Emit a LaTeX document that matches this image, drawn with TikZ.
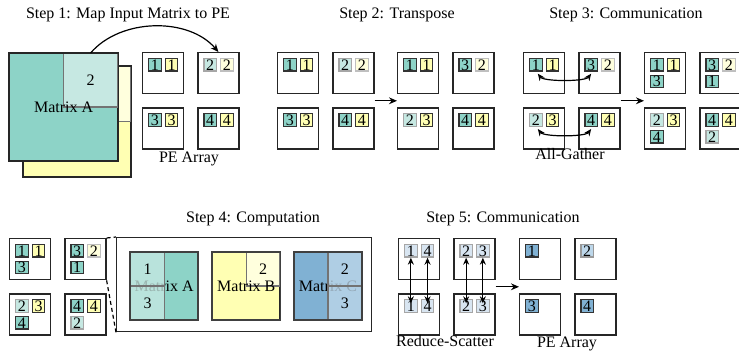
\documentclass[tikz,border=0pt]{standalone}
\usepackage{fontspec}
\setmainfont{Liberation Serif}
\usetikzlibrary{arrows.meta, positioning, calc}
\definecolor{tealA}{HTML}{8DD3C7}
\definecolor{tealAl}{HTML}{C6E8E2}
\definecolor{yellB}{HTML}{FFFFB3}
\definecolor{yellBl}{HTML}{FFFFDD}
\definecolor{blueC}{HTML}{80B1D3}
\definecolor{blueCl}{HTML}{BDD7EA}
\definecolor{blueR}{HTML}{D8E5F1}
\tikzset{
    pebox/.style={rectangle, draw=black!85, line width=0.65pt, fill=white,
                  minimum width=20.5pt, minimum height=20.5pt, inner sep=0pt},
    tilebase/.style={rectangle, line width=0.6pt, minimum width=6.25pt,
                     minimum height=6.25pt, inner sep=0pt},
    tA/.style={tilebase, draw=black!80, fill=tealA},
    tAl/.style={tilebase, draw=black!35, fill=tealAl},
    tB/.style={tilebase, draw=black!80, fill=yellB},
    tBl/.style={tilebase, draw=black!25, fill=yellBl},
    tC/.style={tilebase, draw=black!80, fill=blueC},
    tCl/.style={tilebase, draw=black!40, fill=blueCl},
    tR/.style={tilebase, draw=black!35, fill=blueR},
    mxbox/.style={rectangle, draw=black!85, line width=0.6pt, inner sep=0pt},
    mxquad/.style={rectangle, draw=black!55, line width=0.6pt, inner sep=0pt},
    mxline/.style={draw=black!75, line width=0.75pt},
    steptitle/.style={anchor=base},
    grplbl/.style={anchor=base},
    arrow/.style={-{Stealth[length=4pt, width=3.4pt]}, line width=0.6pt},
    dblarrow/.style={{Stealth[length=3.5pt, width=3pt]}-{Stealth[length=3.5pt, width=3pt]},
                     line width=0.6pt},
    zoomline/.style={line width=0.6pt, dash pattern=on 2pt off 1.5pt},
}
% one PE: name, placement, tile styles and numbers (second and third tile optional)
\newcommand{\pe}[8]{%
    \node[pebox, #2] (#1) {};
    \node[#3, below right=3pt and 3pt of #1.north west] (#1a) {#4};
    \if\relax\detokenize{#5}\relax\else
        \node[#5, right=1.5pt of #1a] (#1b) {#6};
    \fi
    \if\relax\detokenize{#7}\relax\else
        \node[#7, below=1.5pt of #1a] (#1c) {#8};
    \fi
}

\begin{document}
\begin{tikzpicture}[
        x=0.5pt, y=0.5pt,
        font=\fontsize{8}{9.6}\selectfont,
        node distance=6.5pt
    ]
    \useasboundingbox (0,0) rectangle (739,-351);

    % Step 1
    \node[steptitle] (t1) at (128,-19) {Step 1: Map Input Matrix to PE};
    \node[mxbox, fill=yellB, minimum width=53.5pt, minimum height=55pt,
          anchor=north west] (matB) at (23,-66) {};
    \node[mxquad, fill=yellBl, minimum width=26.75pt, minimum height=27.5pt,
          anchor=north east] (qB2) at (matB.north east) {};
    \draw[mxbox] (matB.north west) rectangle (matB.south east);
    \node[mxbox, fill=tealA, minimum width=54pt, minimum height=53.5pt,
          anchor=north west] (matA) at (9,-53) {};
    \node[mxquad, fill=tealAl, minimum width=27pt, minimum height=26.75pt,
          anchor=north east] (qA2) at (matA.north east) {2};
    \draw[mxbox] (matA.north west) rectangle (matA.south east);
    \node (lblA) at (matA.center) {Matrix A};

    \pe{s1b1}{anchor=north west, at={(142,-52)}}{tA}{1}{tB}{1}{}{}
    \pe{s1b2}{right=of s1b1}{tAl}{2}{tBl}{2}{}{}
    \pe{s1b3}{below=of s1b1}{tA}{3}{tB}{3}{}{}
    \pe{s1b4}{right=of s1b3}{tA}{4}{tB}{4}{}{}
    \node[grplbl] (pe1) at (189,-163) {PE Array};
    \draw[arrow] (qA2.north) .. controls +(30,35) and +(-30,35) .. (s1b2.north);

    % Step 2
    \node[steptitle] (t2) at (397,-19) {Step 2: Transpose};
    \pe{s2l1}{anchor=north west, at={(277,-52)}}{tA}{1}{tB}{1}{}{}
    \pe{s2l2}{right=of s2l1}{tAl}{2}{tBl}{2}{}{}
    \pe{s2l3}{below=of s2l1}{tA}{3}{tB}{3}{}{}
    \pe{s2l4}{right=of s2l3}{tA}{4}{tB}{4}{}{}
    \pe{s2r1}{anchor=north west, at={(397,-52)}}{tA}{1}{tB}{1}{}{}
    \pe{s2r2}{right=of s2r1}{tA}{3}{tBl}{2}{}{}
    \pe{s2r3}{below=of s2r1}{tAl}{2}{tB}{3}{}{}
    \pe{s2r4}{right=of s2r3}{tA}{4}{tB}{4}{}{}
    \coordinate (a2s) at ($(s2l2.south east)!0.5!(s2l4.north east)$);
    \coordinate (a2e) at ($(s2r1.south west)!0.5!(s2r3.north west)$);
    \draw[arrow] (a2s) -- (a2e);

    % Step 3
    \node[steptitle] (t3) at (626,-19) {Step 3: Communication};
    \pe{s3l1}{anchor=north west, at={(523,-52)}}{tA}{1}{tB}{1}{}{}
    \pe{s3l2}{right=of s3l1}{tA}{3}{tBl}{2}{}{}
    \pe{s3l3}{below=of s3l1}{tAl}{2}{tB}{3}{}{}
    \pe{s3l4}{right=of s3l3}{tA}{4}{tB}{4}{}{}
    \node[grplbl] (ag) at (570,-160) {All-Gather};
    \draw[dblarrow] ([xshift=1pt, yshift=-1pt]s3l1a.south)
        .. controls +(6,-8) and +(-6,-8) .. ([yshift=-1pt]s3l2a.south);
    \draw[dblarrow] ([xshift=1pt, yshift=-1pt]s3l3a.south)
        .. controls +(6,-8) and +(-6,-8) .. ([yshift=-1pt]s3l4a.south);
    \pe{s3r1}{anchor=north west, at={(644,-52)}}{tA}{1}{tB}{1}{tA}{3}
    \pe{s3r2}{right=of s3r1}{tA}{3}{tBl}{2}{tA}{1}
    \pe{s3r3}{below=of s3r1}{tAl}{2}{tB}{3}{tA}{4}
    \pe{s3r4}{right=of s3r3}{tA}{4}{tB}{4}{tAl}{2}
    \coordinate (a3s) at ($(s3l2.south east)!0.5!(s3l4.north east)$);
    \coordinate (a3e) at ($(s3r1.south west)!0.5!(s3r3.north west)$);
    \draw[arrow] (a3s) -- (a3e);

    % Step 4
    \node[steptitle] (t4) at (253,-222.5) {Step 4: Computation};
    \pe{s4l1}{anchor=north west, at={(9,-238)}}{tA}{1}{tB}{1}{tA}{3}
    \pe{s4l2}{right=of s4l1}{tA}{3}{tBl}{2}{tA}{1}
    \pe{s4l3}{below=of s4l1}{tAl}{2}{tB}{3}{tA}{4}
    \pe{s4l4}{right=of s4l3}{tA}{4}{tB}{4}{tAl}{2}
    \node[pebox, minimum width=127.5pt, minimum height=47pt,
          anchor=north west] (bigbox) at (116,-237) {};
    \draw[zoomline] (s4l2.north east) -- (bigbox.north west);
    \draw[zoomline] (s4l2.south east) -- (bigbox.south west);

    \node[mxbox, fill=tealA, minimum width=33.5pt, minimum height=33.5pt,
          below right=7.5pt and 7pt of bigbox.north west] (A4) {};
    \node (lblA4) at (A4.center) {Matrix A};
    \node[mxquad, fill=tealAl, fill opacity=0.78, text opacity=1,
          minimum width=17pt, minimum height=16.75pt,
          anchor=north west] (A4q1) at (A4.north west) {1};
    \node[mxquad, fill=tealAl, fill opacity=0.78, text opacity=1,
          minimum width=17pt, minimum height=16.75pt,
          anchor=south west] (A4q3) at (A4.south west) {3};
    \draw[mxline] (A4.north west) rectangle (A4.south east);

    \node[mxbox, fill=yellB, minimum width=33.5pt, minimum height=33.5pt,
          right=7pt of A4] (B4) {};
    \node[mxquad, fill=yellBl, minimum width=16.75pt, minimum height=16.75pt,
          anchor=north east] (B4q2) at (B4.north east) {2};
    \node (lblB4) at (B4.center) {Matrix B};
    \draw[mxline] (B4.north west) rectangle (B4.south east);

    \node[mxbox, fill=blueC, minimum width=33.5pt, minimum height=33.5pt,
          right=6.75pt of B4] (C4) {};
    \node (lblC4) at (C4.center) {Matrix C};
    \node[mxquad, fill=blueCl, fill opacity=0.78, text opacity=1,
          minimum width=16.75pt, minimum height=16.75pt,
          anchor=north east] (C4q2) at (C4.north east) {2};
    \node[mxquad, fill=blueCl, fill opacity=0.78, text opacity=1,
          minimum width=16.75pt, minimum height=16.75pt,
          anchor=south east] (C4q3) at (C4.south east) {3};
    \draw[mxline] (C4.north west) rectangle (C4.south east);

    % Step 5
    \node[steptitle] (t5) at (503,-222.5) {Step 5: Communication};
    \pe{s5l1}{anchor=north west, at={(398,-238)}}{tR}{1}{tR}{4}{}{}
    \pe{s5l2}{right=of s5l1}{tR}{2}{tR}{3}{}{}
    \pe{s5l3}{below=of s5l1}{tR}{1}{tR}{4}{}{}
    \pe{s5l4}{right=of s5l3}{tR}{2}{tR}{3}{}{}
    \draw[dblarrow, shorten >=-2pt] (s5l1a.south) -- (s5l3a.north);
    \draw[dblarrow, shorten >=-2pt] (s5l1b.south) -- (s5l3b.north);
    \draw[dblarrow, shorten >=-2pt] (s5l2a.south) -- (s5l4a.north);
    \draw[dblarrow, shorten >=-2pt] (s5l2b.south) -- (s5l4b.north);
    \node[grplbl] (rs) at (445,-347) {Reduce-Scatter};
    \pe{s5r1}{anchor=north west, at={(519,-238)}}{tC}{1}{}{}{}{}
    \pe{s5r2}{right=of s5r1}{tCl}{2}{}{}{}{}
    \pe{s5r3}{below=of s5r1}{tC}{3}{}{}{}{}
    \pe{s5r4}{right=of s5r3}{tC}{4}{}{}{}{}
    \node[grplbl] (pe5) at (567,-348) {PE Array};
    \coordinate (a5s) at ($(s5l2.south east)!0.5!(s5l4.north east)$);
    \coordinate (a5e) at ($(s5r1.south west)!0.5!(s5r3.north west)$);
    \draw[arrow] (a5s) -- (a5e);
\end{tikzpicture}
\end{document}
